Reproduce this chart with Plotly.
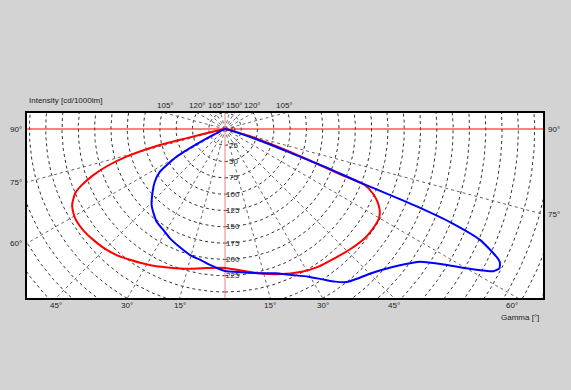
import numpy as np
import plotly.graph_objects as go

# ---- data: (gamma [deg], intensity [cd/1000lm]) ----
red_gamma = [-90, -80, -77.5, -76.5, -76.2, -74.3, -72.5, -70.7, -68.5, -66.8, -63.5, -60, -58, -54,
             -49.9, -45, -40.7, -36, -32.4, -27, -21.6, -15, -8.9, 0, 6, 13, 20, 28.3, 34, 40.4, 46,
             52, 56, 59.9, 62.3, 64.5, 66.5, 68.2, 68.6, 69.9, 71, 72.4, 74, 76, 80, 90]
red_int = [0, 4, 20, 60, 103, 157, 190, 214, 237, 250, 262, 267, 268, 267,
           264, 260, 255, 248, 243, 236, 229, 222, 216, 213, 218, 227, 237, 248.5, 255, 260, 266,
           272, 273.5, 273, 268, 259, 247, 231, 187, 131, 98, 64, 35, 15, 4, 0]

blue_gamma = [-90, -70, -64, -63, -60.2, -56.7, -53, -49.1, -44, -40, -36.4, -31, -26.7, -21, -15.5,
              -10, -6.3, 0, 5, 10, 15, 19.1, 24.5, 29.4, 33, 35.8, 38.5, 41.8, 45, 48, 52.1, 55.8,
              58.5, 60.5, 62.1, 63.1, 64.2, 64.8, 66.5, 67.5, 68, 68.2, 68.4, 69.3, 70, 71.7, 74, 80, 90]
blue_int = [0, 2, 10, 31.5, 85.4, 119.3, 135, 146.8, 162, 170, 176.6, 182, 187.7, 194, 200.6,
            205, 209.8, 217.8, 220, 224, 229, 234, 246, 260, 275, 288.6, 300, 307, 314, 323, 340, 362,
            399, 437, 466, 472, 468, 460, 426.5, 375, 320, 275, 220, 164, 109, 54, 20, 4, 0]

ring_values = list(range(25, 576, 25))
ring_labels = ["0", "25", "50", "75", "100", "125", "150", "175", "200", "225"]
left_angles = [90, 75, 60]
bottom_angles = [-45, -30, -15, 15, 30, 45, 60]
right_angles = [90, 75]
top_labels = [("105°", -105), ("120°", -120), ("165°", -151), ("150°", 150), ("120°", 120), ("105°", 105)]

# ---- layout geometry (pixels) ----
W, H = 571, 390
L, R, T, B = 27, 543, 113, 298
CX, CY = 225, 129
S = 0.652  # px per cd/1000lm
xr = [-(CX - L) / S, (R - CX) / S]
yr = [-(B - CY) / S, (CY - T) / S]


def pol(g, r):
    g = np.radians(np.asarray(g, float))
    r = np.asarray(r, float)
    return r * np.sin(g), -r * np.cos(g)


def px(xp, yp):
    return (xp - L) / (R - L), 1 - (yp - T) / (B - T)


fig = go.Figure()

# rings
gx, gy = [], []
th = np.linspace(0, 360, 721)
for rv in ring_values:
    x, y = pol(th, np.full_like(th, rv))
    gx += list(x) + [None]
    gy += list(y) + [None]
fig.add_trace(go.Scatter(x=gx, y=gy, mode="lines", hoverinfo="skip",
                         line=dict(color="#333333", width=1, dash="3px,3px")))
# radial lines
rx, ry = [], []
for a in range(0, 360, 15):
    if a % 90 == 0:
        continue
    x, y = pol([a, a], [0, 800])
    rx += list(x) + [None]
    ry += list(y) + [None]
fig.add_trace(go.Scatter(x=rx, y=ry, mode="lines", hoverinfo="skip",
                         line=dict(color="#666666", width=1, dash="3px,3px")))
# axes lines
fig.add_trace(go.Scatter(x=[0, 0], y=[yr[0], yr[1]], mode="lines", hoverinfo="skip",
                         line=dict(color="#f08080", width=1)))
fig.add_trace(go.Scatter(x=[xr[0], xr[1]], y=[0, 0], mode="lines", hoverinfo="skip",
                         line=dict(color="#ff0000", width=1)))

# curves
x, y = pol(red_gamma, red_int)
fig.add_trace(go.Scatter(x=x, y=y, mode="lines", line=dict(color="#ff0000", width=2, shape="spline", smoothing=0.6)))
x, y = pol(blue_gamma, blue_int)
fig.add_trace(go.Scatter(x=x, y=y, mode="lines", line=dict(color="#0000ff", width=2, shape="spline", smoothing=0.6)))

font = dict(family="Liberation Sans, Arial", size=8, color="#222222")
ann = []
# ring labels
for i, lab in enumerate(ring_labels):
    ann.append(dict(x=8 / S, y=-25 * i, xref="x", yref="y", text=lab, showarrow=False,
                    xanchor="center", yanchor="middle", font=font))
# left labels
for a in left_angles:
    yy = CY + (CX - L) / np.tan(np.radians(a)) if a != 90 else CY
    ax, ay = px(24, yy)
    ann.append(dict(x=ax, y=ay, xref="paper", yref="paper", text=f"{a}°", showarrow=False,
                    xanchor="right", yanchor="middle", font=font))
for a in right_angles:
    yy = CY + (R - CX) / np.tan(np.radians(a)) if a != 90 else CY
    ax, ay = px(546, yy)
    ann.append(dict(x=ax, y=ay, xref="paper", yref="paper", text=f"{a}°", showarrow=False,
                    xanchor="left", yanchor="middle", font=font))
for a in bottom_angles:
    xx = min(CX + (B - CY) * np.tan(np.radians(a)), R - 31)
    ax, ay = px(xx, B + 1)
    ann.append(dict(x=ax, y=ay, xref="paper", yref="paper", text=f"{abs(a)}°", showarrow=False,
                    xanchor="center", yanchor="top", font=font))
for lab, a in top_labels:
    xx = CX + (CY - T) * np.tan(np.radians(180 - abs(a))) * np.sign(a)
    ax, ay = px(xx, T - 1)
    ann.append(dict(x=ax, y=ay, xref="paper", yref="paper", text=lab, showarrow=False,
                    xanchor="center", yanchor="bottom", font=font))
ax, ay = px(27, 100)
ann.append(dict(x=ax, y=ay, xref="paper", yref="paper", text="Intensity [cd/1000lm]", showarrow=False,
                xanchor="left", yanchor="middle", font=font))
ax, ay = px(541, 311)
ann.append(dict(x=ax, y=ay, xref="paper", yref="paper", text="Gamma [°]", showarrow=False,
                xanchor="right", yanchor="top", font=font))

fig.update_layout(
    width=W, height=H, showlegend=False,
    margin=dict(l=L, r=W - R, t=T, b=H - B, pad=0),
    paper_bgcolor="#d3d3d3", plot_bgcolor="#ffffff",
    annotations=ann,
    xaxis=dict(range=xr, showgrid=False, zeroline=False, showticklabels=False, ticks="",
               showline=True, mirror=True, linecolor="#000000", linewidth=2, fixedrange=True),
    yaxis=dict(range=yr, showgrid=False, zeroline=False, showticklabels=False, ticks="",
               showline=True, mirror=True, linecolor="#000000", linewidth=2, fixedrange=True),
)
fig.write_html("out.html", config={"displayModeBar": False},
               post_script="document.body.style.margin='0';document.body.style.background='#d3d3d3';")
